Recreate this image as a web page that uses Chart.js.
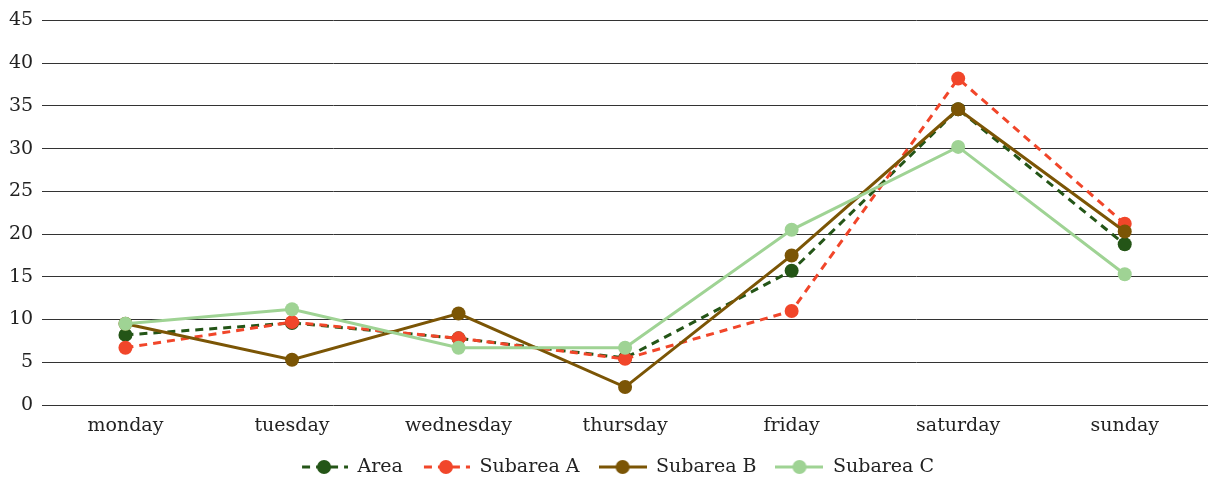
<!DOCTYPE html>
<html>
<head>
<meta charset="utf-8">
<script src="https://cdn.jsdelivr.net/npm/chart.js@4"></script>
<style>
  html, body { margin: 0; padding: 0; background: #fff; }
  #wrap { width: 1208px; height: 477px; position: relative; }
</style>
</head>
<body>
<div id="wrap"><canvas id="chart"></canvas></div>
<script>
'use strict';

// ── data ──
var days     = ['monday', 'tuesday', 'wednesday', 'thursday', 'friday', 'saturday', 'sunday'];
var area     = [8.2, 9.6, 7.8, 5.5, 15.7, 34.6, 18.8];
var subareaA = [6.7, 9.7, 7.8, 5.4, 11.0, 38.2, 21.2];
var subareaB = [9.5, 5.3, 10.7, 2.1, 17.5, 34.6, 20.3];
var subareaC = [9.5, 11.2, 6.7, 6.7, 20.5, 30.2, 15.3];
var yTicks   = [0, 5, 10, 15, 20, 25, 30, 35, 40, 45];

var FONT = '"DejaVu Serif", serif';
var TEXT = '#222';

// legend icon: short line (solid or dashed) with a dot in the middle
function legendIcon(color, dashed) {
  var c = document.createElement('canvas');
  c.width = 48; c.height = 16;
  var g = c.getContext('2d');
  g.strokeStyle = color;
  g.lineWidth = 3;
  if (dashed) g.setLineDash([8, 6]);
  g.beginPath();
  g.moveTo(dashed ? 2 : 0, 8); g.lineTo(48, 8);
  g.stroke();
  g.setLineDash([]);
  g.fillStyle = color;
  g.beginPath();
  g.arc(24, 8, 7, 0, Math.PI * 2);
  g.fill();
  return c;
}

// later series are drawn on top (lower order = on top in Chart.js)
function series(label, data, color, dashed, order) {
  return {
    label: label, data: data, order: order,
    borderColor: color, backgroundColor: color,
    borderWidth: 3, borderDash: dashed ? [8, 6] : [],
    pointRadius: 7, pointHoverRadius: 7,
    pointBackgroundColor: color, pointBorderWidth: 0,
    tension: 0, fill: false,
    _icon: legendIcon(color, dashed)
  };
}

// nudge the legend: a bit lower and a bit to the right
var legendNudge = {
  id: 'legendNudge',
  beforeInit: function (c) {
    var lg = c.legend;
    if (!lg) return;
    var fit = lg.fit;
    lg.fit = function () { fit.call(this); this.height -= 9.5; };
  },
  afterLayout: function (c) {
    if (!c.legend) return;
    c.legend.left += 13;
    c.legend.right += 13;
  }
};

new Chart(document.getElementById('chart'), {
  type: 'line',
  data: {
    labels: days,
    datasets: [
      series('Area',      area,     '#245517', true,  4),
      series('Subarea A', subareaA, '#f1462a', true,  3),
      series('Subarea B', subareaB, '#7b5505', false, 2),
      series('Subarea C', subareaC, '#9fd394', false, 1)
    ]
  },
  plugins: [legendNudge],
  options: {
    responsive: true, maintainAspectRatio: false, animation: false,
    layout: { autoPadding: false, padding: { top: 12, right: 0, left: 0, bottom: 0 } },
    plugins: {
      tooltip: { enabled: false },
      legend: {
        position: 'bottom',
        labels: {
          color: TEXT, font: { family: FONT, size: 19 },
          usePointStyle: true, pointStyleWidth: 48, boxHeight: 16, padding: 19,
          sort: function (a, b) { return a.datasetIndex - b.datasetIndex; },
          generateLabels: function (chart) {
            return chart.data.datasets.map(function (ds, i) {
              return { text: ds.label, fontColor: TEXT, pointStyle: ds._icon, hidden: false, datasetIndex: i };
            });
          }
        }
      }
    },
    scales: {
      x: {
        offset: true,
        grid: { display: false, drawTicks: false },
        border: { display: false },
        ticks: { color: TEXT, font: { family: FONT, size: 19 }, padding: 10 },
        afterFit: function (axis) { axis.height -= 9.3; }
      },
      y: {
        min: 0, max: 45,
        afterBuildTicks: function (axis) { axis.ticks = yTicks.map(function (v) { return { value: v }; }); },
        grid: { color: '#333', lineWidth: 1, drawTicks: false },
        border: { display: false },
        ticks: { color: TEXT, font: { family: FONT, size: 19 }, padding: 9 }
      }
    }
  }
});
</script>
</body>
</html>
